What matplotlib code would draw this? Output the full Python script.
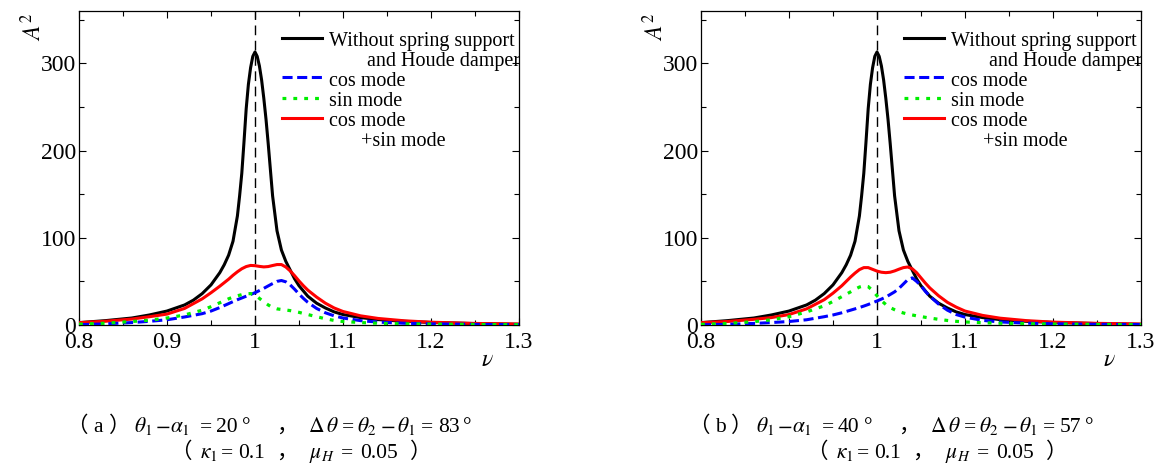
import numpy as np
import matplotlib
matplotlib.use('Agg')
import matplotlib.pyplot as plt
from matplotlib.ticker import MultipleLocator, FixedLocator, FixedFormatter

plt.rcParams['font.family'] = ['Liberation Serif', 'Noto Sans CJK JP']
plt.rcParams['mathtext.fontset'] = 'stix'

# frequency ratio grid for the mode curves
nu = [0.80, 0.83, 0.86, 0.88, 0.90, 0.92, 0.94, 0.95, 0.96, 0.97, 0.975, 0.98, 0.985,
      0.99, 0.995, 1.00, 1.005, 1.01, 1.015, 1.02, 1.025, 1.03, 1.035, 1.04, 1.045,
      1.05, 1.055, 1.06, 1.07, 1.08, 1.09, 1.10, 1.12, 1.14, 1.17, 1.20, 1.25, 1.30]

# response without spring support and Houde damper (same in both cases)
nu_free = [0.80, 0.83, 0.86, 0.88, 0.90, 0.92, 0.93, 0.94, 0.95, 0.96, 0.965, 0.97,
           0.975, 0.98, 0.9825, 0.985, 0.9875, 0.99, 0.9925, 0.995, 0.9975, 1.00,
           1.0025, 1.005, 1.0075, 1.01, 1.0125, 1.015, 1.0175, 1.02, 1.025, 1.03,
           1.035, 1.04, 1.045, 1.05, 1.06, 1.07, 1.08, 1.09, 1.10, 1.12, 1.14, 1.17,
           1.20, 1.25, 1.30]
a_free = [2.7, 5, 8, 11.5, 16, 23, 28.5, 36, 46, 60, 69, 80, 96, 125, 148, 174, 210,
          248, 276, 295, 308, 313, 308, 297, 281, 260, 236, 208, 178, 148, 108, 86,
          73, 63, 53, 45, 33, 25, 19.5, 15, 12, 8.5, 6.2, 4.2, 2.9, 1.6, 0.8]

# (a) theta1 - alpha1 = 20 deg
cos_a = [0.3, 1.3, 2.8, 4.2, 6, 9.2, 13, 16, 20, 24.5, 26.8, 29, 31, 33, 35, 37, 39.5,
         42, 44.8, 47.5, 50, 51, 49.5, 46, 41, 35.5, 30.5, 26, 19, 14, 10.5, 8, 5, 3.3,
         2, 1.3, 0.7, 0.4]
sin_a = [1, 2, 4, 5.5, 8, 11.5, 17, 21, 25.5, 30, 32, 33.5, 34.8, 35.8, 36, 34.5, 30.5,
         26.5, 23, 20, 18.5, 17.8, 17.2, 16.5, 15.5, 14.5, 13.2, 12, 9.5, 7.2, 5.2, 4,
         2.8, 2, 1.3, 1, 0.6, 0.3]
sum_a = [2.7, 4.3, 6.8, 9.5, 12.5, 19, 30, 37, 44.5, 52.5, 57, 61, 64.5, 67, 68.3, 68,
         67.2, 66.6, 67, 68.2, 69.3, 69.3, 66.5, 62, 56.5, 50.5, 45, 40, 32, 25, 19.5,
         15.5, 10.5, 7.5, 4.8, 3.2, 1.8, 1.1]

# (b) theta1 - alpha1 = 40 deg
cos_b = [0.2, 0.8, 1.8, 2.8, 4, 6, 9.5, 11.5, 14, 17, 18.5, 20, 21.7, 23.5, 25.5, 27.5,
         29.7, 32, 35, 38, 42, 47, 52, 54, 50, 45, 38.5, 33, 24, 17, 12, 9, 5.3, 3.5,
         2.1, 1.4, 0.8, 0.5]
sin_b = [0.8, 1.8, 3.8, 6, 9.5, 15, 22, 27, 32.5, 38, 41, 43.5, 45, 44, 39.5, 33.5, 28,
         23.5, 20, 17.5, 15.3, 13.8, 12.5, 11.5, 10.5, 9.7, 8.8, 8, 6.5, 5.2, 4.2, 3.5,
         2.6, 2, 1.5, 1.1, 0.7, 0.4]
sum_b = [2.7, 4, 6.5, 8.5, 12, 18.5, 29, 36.5, 45, 55, 59.5, 63.5, 65.8, 65.8, 63.8,
         61.8, 60.5, 60, 60.5, 62, 64, 65.8, 66.5, 64.5, 60, 54, 48, 42.5, 33.5, 26,
         20.5, 16, 11, 7.8, 5, 3.3, 1.9, 1.1]

xticks = [0.8, 0.9, 1.0, 1.1, 1.2, 1.3]
xticklabels = ['0.8', '0.9', '1', '1.1', '1.2', '1.3']
yticks = [0, 100, 200, 300]

W, H = 1162, 463
fig = plt.figure(figsize=(W / 100, H / 100), dpi=100)

cjk = ['Liberation Serif', 'Noto Sans CJK JP']

BLUE = dict(color='#0000ff', lw=2.2, dashes=(3.3, 1.5))
GREEN = dict(color='#00ee00', lw=2.3, dashes=(1.2, 2.2))


def panel(x_left, cos_v, sin_v, sum_v):
    ax = fig.add_axes([x_left / W, 1 - 325 / H, 440 / W, 314 / H])
    ax.axvline(1.0, color='black', lw=1.0, dashes=(7, 4), zorder=1)
    ax.plot(nu_free, a_free, color='black', lw=2.2, zorder=2)
    ax.plot(nu, sum_v, color='#ff0000', lw=2.2, zorder=3)
    ax.plot(nu, cos_v, zorder=4, **BLUE)
    ax.plot(nu, sin_v, zorder=5, **GREEN)

    ax.set_xlim(0.8, 1.3)
    ax.set_ylim(0, 360)
    ax.xaxis.set_major_locator(FixedLocator(xticks))
    ax.xaxis.set_major_formatter(FixedFormatter(xticklabels))
    ax.xaxis.set_minor_locator(MultipleLocator(0.05))
    ax.yaxis.set_major_locator(FixedLocator(yticks))
    ax.yaxis.set_minor_locator(MultipleLocator(50))
    ax.tick_params(which='both', direction='in', top=True, right=True,
                   width=0.8, labelsize=17)
    ax.tick_params(which='major', length=5)
    ax.tick_params(which='minor', length=3.5)
    ax.tick_params(axis='x', pad=5)
    ax.tick_params(axis='y', pad=2)
    for s in ax.spines.values():
        s.set_linewidth(0.9)

    # hand-drawn legend
    lx0, lx1, tx = 0.461, 0.552, 0.568
    handles = [
        (0.9156, dict(color='black', lw=2.2)),
        (0.790, BLUE),
        (0.723, GREEN),
        (0.659, dict(color='#ff0000', lw=2.2)),
    ]
    for yy, kw in handles:
        ax.plot([lx0, lx1], [yy, yy], transform=ax.transAxes, clip_on=False, **kw)
    rows = [
        (tx, 0.8885, 'Without spring support'),
        (0.655, 0.8248, 'and Houde damper'),
        (tx, 0.7611, 'cos mode'),
        (tx, 0.6975, 'sin mode'),
        (tx, 0.6338, 'cos mode'),
        (0.642, 0.5701, '+sin mode'),
    ]
    for xx, yy, s in rows:
        ax.text(xx, yy, s, transform=ax.transAxes, fontsize=14.5, va='baseline',
                ha='left')
    return ax


def fx(px):
    return px / W


def fy(px):
    return 1 - px / H


panel(79, cos_a, sin_a, sum_a)
panel(701, cos_b, sin_b, sum_b)

for x0 in (79, 701):
    fig.text(fx(x0 - 46), fy(27), r'$A^2$', rotation=90, fontsize=17,
             ha='center', va='center')
    fig.text(fx(x0 + 408), fy(360), r'$\nu$', fontsize=17, ha='center', va='center')

# captions: each piece is put at its own pixel position along the baseline
CAP = 15.5
# how far the visible glyph sits from the start of a full-width CJK cell
cjk_shift = {'（': 12.5, '）': 2, '，': 4.5}


def caption_line(yb, pieces, dx):
    for xp, s in pieces:
        if s in cjk_shift:
            fig.text(fx(xp + dx - cjk_shift[s]), fy(yb), s, family=cjk, fontsize=CAP,
                     ha='left', va='baseline')
        else:
            fig.text(fx(xp + dx), fy(yb), s, family='Liberation Serif', fontsize=CAP,
                     ha='left', va='baseline')


def caption(dx1, dx2, tag, first, second):
    line1 = [(79, '（'), (93, tag), (111, '）'),
             (134, r'$\theta_1$'), (155, r'$-$'), (170, r'$\alpha_1$'),
             (200, '='), (216, first), (242, '°'), (281, '，'),
             (308, r'$\Delta\,\theta$'), (342, '='), (357, r'$\theta_2$'),
             (380, r'$-$'), (397, r'$\theta_1$'), (421, '='), (438, second),
             (463, '°')]
    line2 = [(183, '（'), (200, r'$\kappa_1$'), (221, '='), (238, '0.1'),
             (281, '，'), (309, r'$\mu_H$'), (341, '='), (360, '0.05'),
             (412, '）')]
    caption_line(432, line1, dx1)
    caption_line(458, line2, dx2)


caption(0, 0, 'a', '20', '83')
caption(622, 636, 'b', '40', '57')

fig.savefig('out.png', dpi=100)
